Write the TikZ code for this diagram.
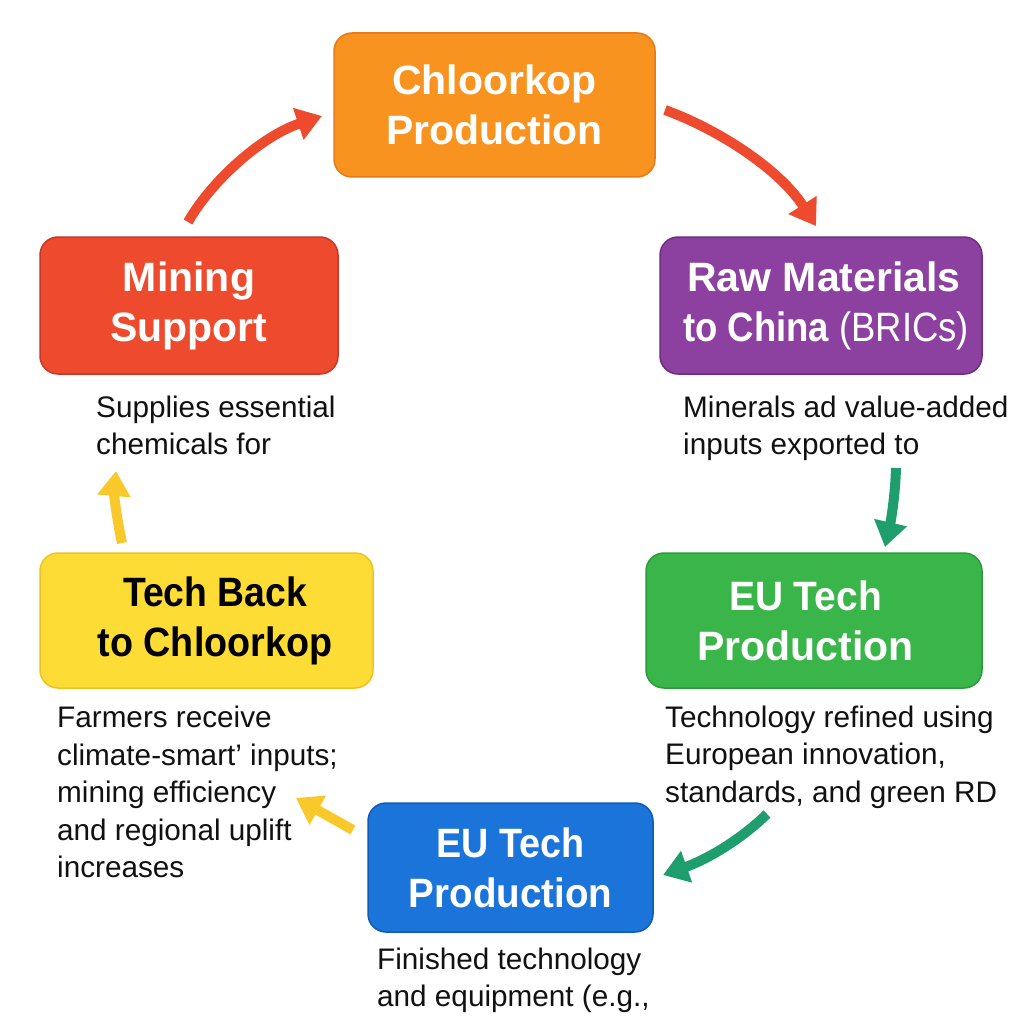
\documentclass[tikz,border=0pt]{standalone}
\usepackage{fontspec}
\setmainfont{Liberation Sans}
\usetikzlibrary{arrows.meta}
\definecolor{cOrange}{HTML}{F7931E}
\definecolor{cOrangeD}{HTML}{E57A16}
\definecolor{cPurple}{HTML}{8C409F}
\definecolor{cPurpleD}{HTML}{6E2C84}
\definecolor{cRed}{HTML}{EE4A2D}
\definecolor{cRedD}{HTML}{C8372A}
\definecolor{cYellow}{HTML}{FDDC35}
\definecolor{cYellowD}{HTML}{EFC21E}
\definecolor{cGreen}{HTML}{3AB54A}
\definecolor{cGreenD}{HTML}{2A9A3A}
\definecolor{cBlue}{HTML}{1B74D9}
\definecolor{cBlueD}{HTML}{115BB8}
\definecolor{aRed}{HTML}{EE4A2D}
\definecolor{aGreen}{HTML}{1F9E6D}
\definecolor{aYellow}{HTML}{F9C92B}
\definecolor{txt}{HTML}{111111}
\newcommand{\narrow}[2]{\scalebox{#1}[1]{#2}}
\begin{document}
\begin{tikzpicture}[x=1pt,y=-1pt,
  box/.style={draw, rounded corners=18pt, line width=1.5pt, align=center, inner sep=0pt,
    font=\fontsize{41}{50}\selectfont\bfseries, text=white},
  body/.style={anchor=base west, align=left, inner sep=0pt,
    font=\fontsize{29.7}{37.5}\selectfont, text=txt},
  flow/.style={line width=10pt, -{Triangle[length=25pt,width=32pt]}},
]
\useasboundingbox (0,0) rectangle (1024,1024);
\fill[white] (0,0) rectangle (1024,1024);

% boxes
\node[box, fill=cOrange, draw=cOrangeD, minimum width=321pt, minimum height=144pt] (prod) at (494.5,105) {Chloorkop\\Production};
\node[box, fill=cPurple, draw=cPurpleD, minimum width=322pt, minimum height=137pt] (raw) at (821,305.5) {\hspace*{6pt}Raw Materials\\\hspace*{10pt}\narrow{0.89}{to China {\mdseries(BRICs)}}};
\node[box, fill=cRed, draw=cRedD, minimum width=298pt, minimum height=137pt] (mine) at (189,305.5) {Mining\\Support};
\node[box, fill=cYellow, draw=cYellowD, text=black, minimum width=333pt, minimum height=135pt] (back) at (206.5,620.5) {\hspace*{17pt}\narrow{0.91}{Tech Back}\\\hspace*{17pt}\narrow{0.92}{to Chloorkop}};
\node[box, fill=cGreen, draw=cGreenD, minimum width=336pt, minimum height=135pt] (eu1) at (814,620.5) {\narrow{0.95}{EU Tech}\hspace*{17pt}\\Production\hspace*{17pt}};
\node[box, fill=cBlue, draw=cBlueD, minimum width=285pt, minimum height=129pt] (eu2) at (510.5,867.5) {\narrow{0.92}{EU Tech}\\\narrow{0.94}{Production}};

% body texts (anchor = baseline of last line)
\node[body] (tmine) at (96,454.5) {Supplies essential\\chemicals for};
\node[body] (traw) at (683,454.5) {Minerals ad value-added\\inputs exported to};
\node[body] (teu1) at (665,802) {Technology refined using\\European innovation,\\standards, and green RD};
\node[body] (tback) at (57,877.5) {Farmers receive\\climate-smart’ inputs;\\mining efficiency\\and regional uplift\\increases};
\node[body] (teu2) at (377,1006.5) {Finished technology\\and equipment (e.g.,};

% arrow end points
\coordinate (a1s) at (188,222);  \coordinate (a1e) at (322,116);
\coordinate (a2s) at (665,110);  \coordinate (a2e) at (816,226);
\coordinate (a3s) at (896,468);  \coordinate (a3e) at (885,547);
\coordinate (a4s) at (767,814);  \coordinate (a4e) at (663,875);
\coordinate (a5s) at (353,830);  \coordinate (a5e) at (296,798);
\coordinate (a6s) at (122,543);  \coordinate (a6e) at (116,471);

\draw[flow, aRed] (a1s) .. controls (212,180) and (262,136) .. (a1e);
\draw[flow, aRed] (a2s) .. controls (720,130) and (780,170) .. (a2e);
\draw[flow, aGreen] (a3s) .. controls (895,500) and (890,525) .. (a3e);
\draw[flow, aGreen] (a4s) .. controls (735,845) and (700,862) .. (a4e);
\draw[flow, aYellow] (a5s) -- (a5e);
\draw[flow, aYellow] (a6s) .. controls (117,520) and (114,495) .. (a6e);
\end{tikzpicture}
\end{document}
